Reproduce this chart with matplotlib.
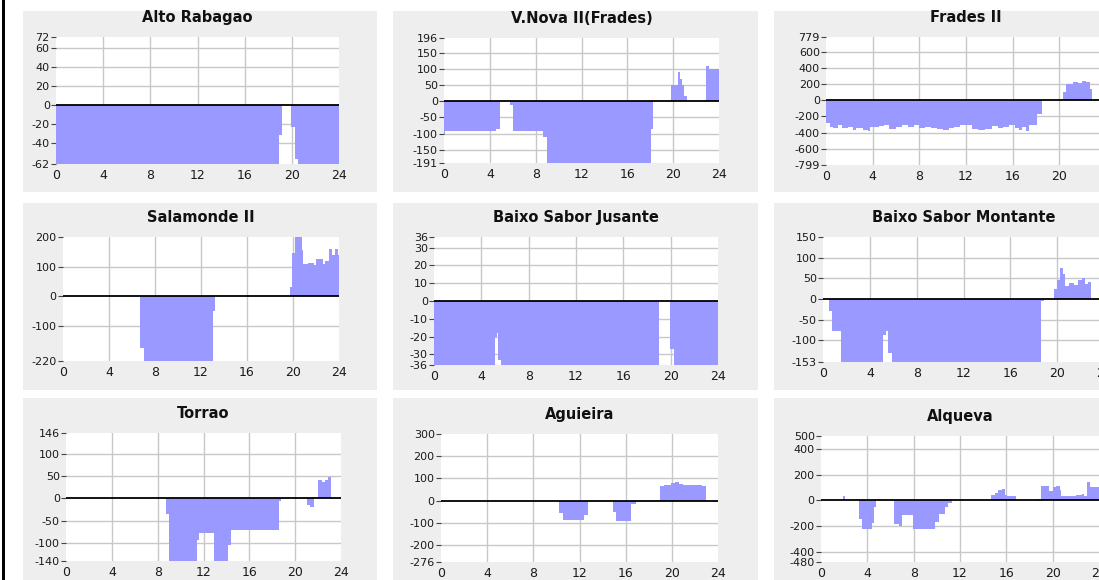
import matplotlib
matplotlib.use("Agg")
import matplotlib.pyplot as plt
from matplotlib.patches import Rectangle

plt.rcParams['font.family'] = ['DejaVu Sans']
plt.rcParams['axes.unicode_minus'] = False

# station names
names = ["Alto Rabagao", "V.Nova II(Frades)", "Frades II",
         "Salamonde II", "Baixo Sabor Jusante", "Baixo Sabor Montante",
         "Torrao", "Aguieira", "Alqueva"]

# step series: edges in hours, values per step
alto_t = [0, 18.9, 19.2, 19.9, 20.25, 20.5, 24]
alto_v = [-62, -31, 0, -23, -57, -62]

vnova_t = [0, 0.1, 4.55, 4.85, 5.8, 6.0, 8.6, 8.95, 18.05, 18.2, 19.6, 19.85,
           20.4, 20.6, 20.75, 20.95, 21.2, 22.6, 22.9, 23.1, 24]
vnova_v = [-100, -93, -85, 0, -10, -93, -110, -191, -85, 0, 5, 50,
           90, 70, 50, 15, 0, 5, 110, 100]

frades_t = [0, 0.3, 0.6, 1.0, 1.4, 1.9, 2.3, 2.6, 3.2, 3.6, 3.8, 4.5, 5.0, 5.4,
            6.0, 6.5, 7.0, 7.5, 8.0, 8.5, 9.0, 9.5, 10.0, 10.5, 11.0, 11.5,
            12.0, 12.5, 13.0, 13.6, 14.2, 14.7, 15.2, 15.7, 16.2, 16.5, 16.8,
            17.1, 17.4, 18.1, 18.5, 20.35, 20.6, 21.2, 21.6, 21.9, 22.3, 22.6,
            22.8, 23.3, 24]
frades_v = [-280, -330, -340, -310, -340, -330, -370, -340, -365, -375, -330,
            -320, -310, -350, -330, -310, -325, -300, -340, -335, -345, -350,
            -370, -340, -330, -310, -300, -350, -370, -360, -320, -345, -330,
            -310, -340, -370, -330, -375, -300, -170, 0, 100, 200, 220, 210,
            240, 230, 140, 0, 20]

salam_t = [0, 6.72, 7.0, 13.0, 13.2, 19.7, 19.95, 20.2, 20.75, 20.9, 21.3,
           21.8, 22.0, 22.6, 22.8, 23.1, 23.35, 23.65, 23.9, 24]
salam_v = [0, -175, -220, -50, 0, 30, 145, 200, 157, 107, 112, 105, 125, 107,
           120, 160, 140, 160, 140]

bsj_t = [0, 5.14, 5.3, 5.45, 5.65, 18.98, 19.95, 20.25, 24]
bsj_v = [-36, -20, -18, -33, -36, 0, -27, -36]

bsm_t = [0, 0.51, 0.75, 1.57, 5.14, 5.35, 5.55, 5.86, 18.66, 18.9, 19.71, 20.0,
         20.25, 20.5, 20.7, 21.0, 21.4, 21.8, 22.1, 22.4, 22.6, 22.9, 23.7,
         23.85, 24]
bsm_v = [0, -30, -78, -153, -88, -78, -130, -153, -5, 0, 25, 45, 75, 60, 32,
         38, 33, 45, 50, 35, 40, 0, -50, -75]

torrao_t = [0, 8.72, 9.0, 11.42, 11.6, 12.88, 14.18, 14.4, 18.55, 18.8, 21.0,
            21.3, 21.6, 22.03, 22.3, 22.6, 22.9, 23.1, 24]
torrao_v = [0, -35, -140, -92, -77, -140, -105, -70, -5, 0, -15, -20, 0, 40,
            37, 42, 47, 0]

agui_t = [0, 10.23, 10.55, 12.4, 12.77, 14.94, 15.2, 16.45, 16.9, 18.99, 19.3,
          19.9, 20.3, 20.6, 21.0, 22.6, 22.98, 24]
agui_v = [0, -55, -85, -65, 0, -50, -90, -15, 0, 65, 72, 78, 85, 75, 72, 65, 0]

alq_t = [0, 1.87, 2.1, 3.27, 3.55, 4.36, 4.55, 4.79, 6.08, 6.3, 6.75, 7.0, 7.9,
         9.87, 10.2, 10.67, 11.0, 11.3, 14.69, 15.0, 15.3, 15.6, 15.9, 16.1,
         16.84, 18.7, 18.95, 19.7, 20.0, 20.3, 20.6, 20.7, 22.0, 22.5, 22.7,
         23.0, 23.2, 24]
alq_v = [0, 30, 0, -145, -225, -175, -55, 0, -5, -185, -200, -115, -225, -165,
         -110, -55, -20, 0, 40, 60, 80, 90, 40, 30, 0, 10, 110, 75, 100, 115,
         80, 30, 40, 50, 35, 140, 100]

series_t = [alto_t, vnova_t, frades_t, salam_t, bsj_t, bsm_t, torrao_t, agui_t, alq_t]
series_v = [alto_v, vnova_v, frades_v, salam_v, bsj_v, bsm_v, torrao_v, agui_v, alq_v]

# y tick labels (first and last are the axis limits)
yticks = [
    [-62, -40, -20, 0, 20, 40, 60, 72],
    [-191, -150, -100, -50, 0, 50, 100, 150, 196],
    [-799, -600, -400, -200, 0, 200, 400, 600, 779],
    [-220, -100, 0, 100, 200],
    [-36, -30, -20, -10, 0, 10, 20, 30, 36],
    [-153, -100, -50, 0, 50, 100, 150],
    [-140, -100, -50, 0, 50, 100, 146],
    [-276, -200, -100, 0, 100, 200, 300],
    [-480, -400, -200, 0, 200, 400, 500],
]
xticks = [0, 4, 8, 12, 16, 20, 24]

# layout in pixels (left, top, right, bottom)
W, H = 1099, 580
boxes_x = [(23, 377), (393, 758), (774, 1120)]
boxes_y = [(11, 192), (203, 390), (398, 600)]
plot_px = [
    (56, 37, 339, 164), (444, 38, 719, 163), (826, 37, 1106, 165),
    (63, 237, 339, 361), (434, 237, 718, 365), (823, 237, 1104, 362),
    (66, 433, 341, 561), (441, 434, 718, 562), (821, 436, 1099, 562),
]


def frac(l, t, r, b):
    return [l / W, 1 - b / H, (r - l) / W, (b - t) / H]


fig = plt.figure(figsize=(W / 100, H / 100), dpi=100)
fig.patch.set_facecolor('white')

# gray panel backgrounds
for (y0, y1) in boxes_y:
    for (x0, x1) in boxes_x:
        fig.add_artist(Rectangle((x0 / W, 1 - y1 / H), (x1 - x0) / W, (y1 - y0) / H,
                                 transform=fig.transFigure, facecolor='#eeeeee',
                                 edgecolor='none', zorder=-5))
# black bar on the left edge
fig.add_artist(Rectangle((2 / W, 0), 3 / W, 1, transform=fig.transFigure,
                         facecolor='black', edgecolor='none', zorder=-4))

for i in range(9):
    ax = fig.add_axes(frac(*plot_px[i]))
    ax.set_facecolor('white')
    yt = yticks[i]
    ax.stairs(series_v[i], series_t[i], baseline=0, fill=True,
              color='#9999ff', linewidth=0, zorder=2)
    for x in xticks[1:-1]:
        ax.axvline(x, color='#c8c8c8', lw=1, zorder=1)
    for y in yt[1:-1]:
        if y != 0:
            ax.axhline(y, color='#c8c8c8', lw=1, zorder=1)
    ax.axhline(0, color='black', lw=1.3, zorder=3)
    ax.set_xlim(0, 24)
    ax.set_ylim(yt[0], yt[-1])
    ax.set_xticks(xticks)
    ax.set_yticks(yt)
    ax.tick_params(axis='y', length=3.5, width=0.8, color='#444444', pad=1,
                   labelsize=8, labelcolor='#1a1a1a')
    ax.tick_params(axis='x', length=0, pad=3.5, labelsize=9, labelcolor='#1a1a1a')
    for s in ax.spines.values():
        s.set_visible(False)
    ax.set_title(names[i], fontsize=10.5, fontweight='bold', color='#111111', pad=10.5)

fig.savefig('out.png', dpi=100)
